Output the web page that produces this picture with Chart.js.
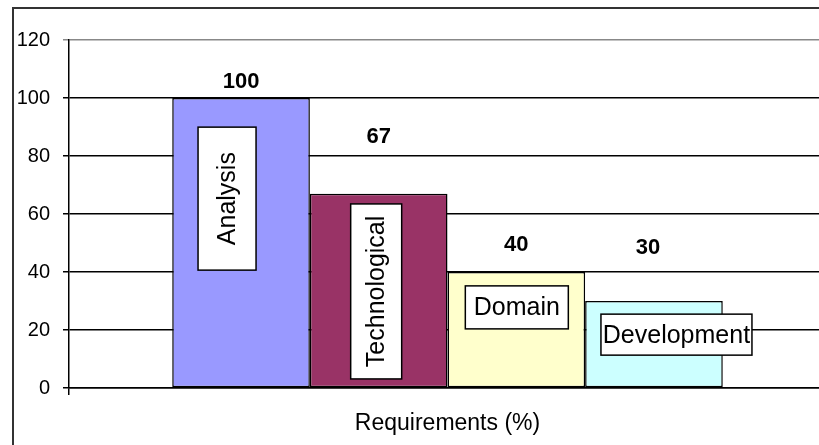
<!DOCTYPE html>
<html><head><meta charset="utf-8">
<script src="https://cdn.jsdelivr.net/npm/chart.js@4.4.1/dist/chart.umd.min.js"></script>
<style>
html,body{margin:0;padding:0;overflow:hidden;background:#fff;width:819px;height:445px}
#wrap{position:absolute;left:0;top:0;width:840px;height:445px}
</style></head>
<body><div id="wrap"><canvas id="c" width="840" height="445"></canvas></div>
<script>
const categories = ['Requirements (%)'];
const seriesNames = ['Analysis', 'Technological', 'Domain', 'Development'];
const seriesValues = [100, 67, 40, 30];
const yTickValues = [0, 20, 40, 60, 80, 100, 120];
const seriesColors = ['#9999FF', '#993366', '#FFFFCC', '#CCFFFF'];

const FONT = '"Liberation Sans", Arial, sans-serif';

const frame = {
  id: 'frame',
  beforeDraw(chart) {
    const ctx = chart.ctx;
    ctx.save();
    ctx.fillStyle = '#fff';
    ctx.fillRect(0, 0, chart.width, chart.height);
    ctx.strokeStyle = '#333';
    ctx.lineWidth = 2;
    ctx.strokeRect(13, 8, 1000, 1000);
    ctx.restore();
  }
};

const barNotes = {
  id: 'barNotes',
  afterDatasetsDraw(chart, args, opts) {
    const ctx = chart.ctx;
    const ys = chart.scales.y;
    ctx.save();
    chart.data.datasets.forEach((ds, i) => {
      const bar = chart.getDatasetMeta(i).data[0];
      // series-name box
      const b = opts.boxes[i];
      const cx = bar.x + b.dx;
      const cy = ys.getPixelForValue(b.at);
      ctx.fillStyle = '#fff';
      ctx.strokeStyle = '#000';
      ctx.lineWidth = 1.5;
      ctx.fillRect(cx - b.w / 2, cy - b.h / 2, b.w, b.h);
      ctx.strokeRect(cx - b.w / 2, cy - b.h / 2, b.w, b.h);
      ctx.fillStyle = '#000';
      ctx.font = '25px ' + FONT;
      ctx.textAlign = 'center';
      ctx.textBaseline = 'middle';
      ctx.save();
      ctx.translate(cx, cy);
      if (b.rotate) ctx.rotate(-Math.PI / 2);
      ctx.fillText(ds.label, 0, 1);
      ctx.restore();
      // value label
      ctx.font = 'bold 22px ' + FONT;
      ctx.fillText(String(ds.data[0]), bar.x + opts.valueDx[i], ys.getPixelForValue(opts.valueAt[i]));
    });
    ctx.restore();
  }
};

new Chart(document.getElementById('c'), {
  type: 'bar',
  data: {
    labels: categories,
    datasets: seriesNames.map((n, i) => ({
      label: n,
      data: [seriesValues[i]],
      backgroundColor: seriesColors[i],
      borderColor: '#000',
      borderWidth: 1.5,
      borderSkipped: false,
      categoryPercentage: 4 / 5.5,
      barPercentage: 1
    }))
  },
  options: {
    responsive: false,
    animation: false,
    devicePixelRatio: 1,
    layout: { padding: { left: 13, top: 40, right: 14, bottom: 0 } },
    plugins: {
      legend: { display: false },
      tooltip: { enabled: false },
      barNotes: {
        valueAt: [105.5, 86.6, 49.3, 48.3],
        valueDx: [0, 0, 0, -6],
        boxes: [
          { dx: -14, at: 65.3, w: 58, h: 143, rotate: true },
          { dx: -2.5, at: 33.3, w: 51, h: 175, rotate: true },
          { dx: 0.5, at: 27.8, w: 103, h: 43, rotate: false },
          { dx: 22.5, at: 18.4, w: 151, h: 41, rotate: false }
        ]
      }
    },
    scales: {
      x: {
        offset: true,
        grid: { display: true, offset: true, drawOnChartArea: false, drawTicks: true, tickLength: 7, color: '#000', lineWidth: 1.5 },
        border: { display: true, color: '#000', width: 1.5 },
        ticks: { font: { family: FONT, size: 23 }, color: '#000', padding: 15 },
        afterFit: s => { s.height = 57; }
      },
      y: {
        min: 0, max: 120,
        afterBuildTicks: s => { s.ticks = yTickValues.map(v => ({ value: v })); },
        grid: { color: c => (c.tick && c.tick.value === 120 ? '#888' : '#000'), lineWidth: 1.5, tickLength: 6 },
        border: { display: true, color: '#000', width: 1.5 },
        ticks: { font: { family: FONT, size: 20 }, color: '#000', padding: 13 },
        afterFit: s => { s.width = 56; }
      }
    }
  },
  plugins: [frame, barNotes]
});
</script>
</body></html>
